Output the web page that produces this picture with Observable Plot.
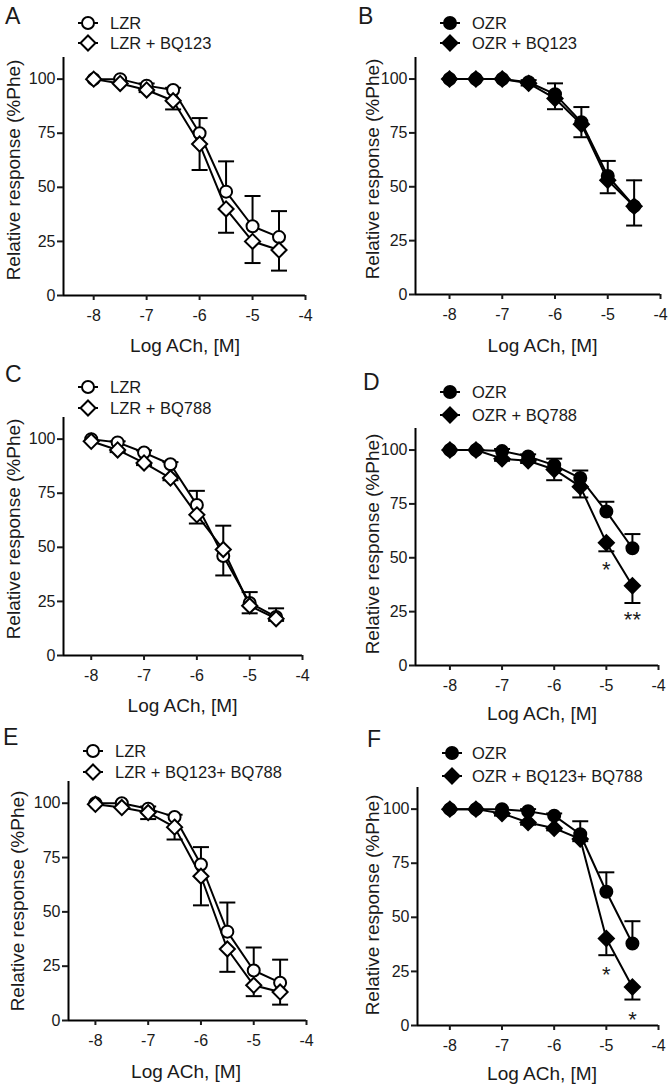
<!DOCTYPE html>
<html>
<head>
<meta charset="utf-8">
<script src="https://cdn.jsdelivr.net/npm/d3@7"></script>
<script src="https://cdn.jsdelivr.net/npm/@observablehq/plot@0.6"></script>
<style>
  html, body { margin: 0; padding: 0; background: #fff; }
  #root { position: relative; width: 670px; height: 1088px; overflow: hidden; font-family: "Liberation Sans", Arial, Helvetica, sans-serif; }
  .panel { position: absolute; width: 335px; height: 360px; }
  .panel svg { position: absolute; left: 0; top: 0; overflow: visible; }
  .overlay { pointer-events: none; }
</style>
</head>
<body>
<div id="root"></div>
<script>
// ---------------- DATA ----------------
const logACh = [-8, -7.5, -7, -6.5, -6, -5.5, -5, -4.5];
const xTicks = [-8, -7, -6, -5, -4];
const yTicks = [0, 25, 50, 75, 100];
const xLabel = "Log ACh, [M]";
const yLabel = "Relative response (%Phe)";
const panelLetters = ["A", "B", "C", "D", "E", "F"];

// Panel A
const legendA = ["LZR", "LZR + BQ123"];
const lzrA = [100, 100, 97, 95, 75, 48, 32, 27];
const lzrA_sem = [0, 0, 1, 1, 7, 14, 14, 12];
const lzrBQ123A = [100, 98, 95, 90, 70, 40, 25, 21];
const lzrBQ123A_sem = [0, 0, 1, 4, 12, 11, 10, 9.5];

// Panel B
const legendB = ["OZR", "OZR + BQ123"];
const ozrB = [100, 100, 100, 98.5, 93, 80, 55, 41];
const ozrB_sem = [0, 0, 0, 1, 5, 7, 7, 12];
const ozrBQ123B = [100, 100, 100, 98, 91, 79, 53, 41];
const ozrBQ123B_sem = [0, 0, 0, 1, 5, 6, 6, 9];

// Panel C
const legendC = ["LZR", "LZR + BQ788"];
const lzrC = [100, 98.5, 93.8, 88.4, 69.6, 46, 24.3, 17.8];
const lzrC_sem = [0, 0.5, 1, 1, 6.5, 14, 5, 4];
const lzrBQ788C = [99, 95, 89, 82, 65, 49, 23, 17];
const lzrBQ788C_sem = [0, 1, 1, 1, 4, 12, 3.5, 1];

// Panel D
const legendD = ["OZR", "OZR + BQ788"];
const ozrD = [100, 100, 99.5, 97, 93, 87, 71.5, 54.4];
const ozrD_sem = [0, 0, 1, 1, 3, 3.5, 4.5, 6.6];
const ozrBQ788D = [100, 100, 96, 95, 91, 83, 57, 37];
const ozrBQ788D_sem = [0, 0, 1, 1, 5, 5, 4, 8];
const starXD = [-5, -4.5];
const starYD = [47, 24];
const starTextD = ["*", "**"];

// Panel E
const legendE = ["LZR", "LZR + BQ123+ BQ788"];
const lzrE = [100, 100, 97.5, 93.7, 71.8, 40.9, 23, 17.4];
const lzrE_sem = [0, 0, 1, 1, 8, 13.4, 10.6, 10.6];
const lzrBothE = [99.5, 98, 95.7, 89, 66.4, 32.9, 16.2, 13.1];
const lzrBothE_sem = [0, 0, 3, 5.7, 13.4, 10.5, 5, 5.8];

// Panel F
const legendF = ["OZR", "OZR + BQ123+ BQ788"];
const ozrF = [100, 100, 100, 99, 97, 88.4, 61.8, 37.9];
const ozrF_sem = [0, 0, 0, 1, 1, 6, 9, 10.3];
const ozrBothF = [100, 100, 98, 93.8, 91.2, 86.2, 40.2, 17.8];
const ozrBothF_sem = [0, 0, 1, 1, 1, 1, 7.7, 5.8];
const starXF = [-5, -4.5];
const starYF = [26, 5.4];
const starTextF = ["*", "*"];

// ---------------- LAYOUT ----------------
const layout = {
  A: {left: 0,   top: 0,   mL: 63, mR: 30, mT: 57, mB: 65, xMin: -8.57,  letter: [5, 24],  mx: 88,  tx: 110, rows: [23, 43], xl: [185, 352], yl: [13.5, 170]},
  B: {left: 335, top: 0,   mL: 80, mR: 10, mT: 57, mB: 66, xMin: -8.645, letter: [23, 24], mx: 115, tx: 137, rows: [23, 43], xl: [207.5, 352], yl: [37, 169]},
  C: {left: 0,   top: 360, mL: 63, mR: 33, mT: 57, mB: 65, xMin: -8.525, letter: [5, 22],  mx: 88,  tx: 110, rows: [27, 48], xl: [182.5, 352], yl: [13, 169]},
  D: {left: 335, top: 360, mL: 80, mR: 12, mT: 68, mB: 55, xMin: -8.66,  letter: [28, 30], mx: 115, tx: 137, rows: [32, 55], xl: [207, 360], yl: [37, 184]},
  E: {left: 0,   top: 728, mL: 68, mR: 29, mT: 53, mB: 68, xMin: -8.51,  letter: [3, 17],  mx: 93,  tx: 115, rows: [23, 44], xl: [186, 350], yl: [17, 173]},
  F: {left: 335, top: 728, mL: 82, mR: 12, mT: 59, mB: 63, xMin: -8.62,  letter: [32, 19], mx: 117, tx: 137, rows: [25, 48], xl: [207, 352], yl: [37, 177]}
};

const series = {
  A: {legend: legendA, ctrl: lzrA, ctrlSem: lzrA_sem, trt: lzrBQ123A, trtSem: lzrBQ123A_sem, filled: false},
  B: {legend: legendB, ctrl: ozrB, ctrlSem: ozrB_sem, trt: ozrBQ123B, trtSem: ozrBQ123B_sem, filled: true},
  C: {legend: legendC, ctrl: lzrC, ctrlSem: lzrC_sem, trt: lzrBQ788C, trtSem: lzrBQ788C_sem, filled: false},
  D: {legend: legendD, ctrl: ozrD, ctrlSem: ozrD_sem, trt: ozrBQ788D, trtSem: ozrBQ788D_sem, filled: true, stars: [starXD, starYD, starTextD]},
  E: {legend: legendE, ctrl: lzrE, ctrlSem: lzrE_sem, trt: lzrBothE, trtSem: lzrBothE_sem, filled: false},
  F: {legend: legendF, ctrl: ozrF, ctrlSem: ozrF_sem, trt: ozrBothF, trtSem: ozrBothF_sem, filled: true, stars: [starXF, starYF, starTextF]}
};

const FONT = '"Liberation Sans", Arial, Helvetica, sans-serif';
const TEXT = "#1a1a1a";
const capSymbol = { draw(ctx) { ctx.moveTo(-8, 0); ctx.lineTo(8, 0); } };
const NS = "http://www.w3.org/2000/svg";

function el(name, attrs, parent) {
  const e = document.createElementNS(NS, name);
  for (const k in attrs) e.setAttribute(k, attrs[k]);
  if (parent) parent.appendChild(e);
  return e;
}

const root = document.getElementById("root");

for (const id of panelLetters) {
  const L = layout[id], S = series[id];
  const fill = S.filled ? "black" : "white";
  const rows = logACh.map((x, i) => ({x, c: S.ctrl[i], cs: S.ctrlSem[i], t: S.trt[i], ts: S.trtSem[i]}));
  const cErr = rows.filter(d => d.cs > 0);
  const tErr = rows.filter(d => d.ts > 0);

  const marks = [
    Plot.ruleX(cErr, {x: "x", y1: "c", y2: d => d.c + d.cs, stroke: "black", strokeWidth: 2}),
    Plot.dot(cErr, {x: "x", y: d => d.c + d.cs, symbol: capSymbol, r: 1, stroke: "black", strokeWidth: 2, fill: "none"}),
    Plot.ruleX(tErr, {x: "x", y1: "t", y2: d => d.t - d.ts, stroke: "black", strokeWidth: 2}),
    Plot.dot(tErr, {x: "x", y: d => d.t - d.ts, symbol: capSymbol, r: 1, stroke: "black", strokeWidth: 2, fill: "none"}),
    Plot.line(rows, {x: "x", y: "c", stroke: "black", strokeWidth: 2}),
    Plot.line(rows, {x: "x", y: "t", stroke: "black", strokeWidth: 2}),
    Plot.dot(rows, {x: "x", y: "c", symbol: "circle", r: 6, fill, stroke: "black", strokeWidth: 2}),
    Plot.dot(rows, {x: "x", y: "t", symbol: "diamond2", r: 6.8, fill, stroke: "black", strokeWidth: 2}),
    Plot.ruleX([L.xMin], {stroke: "black", strokeWidth: 2}),
    Plot.ruleY([0], {stroke: "black", strokeWidth: 2}),
    Plot.axisX({ticks: xTicks, tickFormat: d => String(d), tickSize: 5, tickPadding: 9, strokeWidth: 2, label: null, fill: TEXT}),
    Plot.axisY({ticks: yTicks, tickFormat: d => String(d), tickSize: 6, tickPadding: 2, strokeWidth: 2, label: null, fill: TEXT})
  ];
  if (S.stars) {
    const [sx, sy, st] = S.stars;
    const starRows = sx.map((x, i) => ({x, y: sy[i], text: st[i]}));
    marks.push(Plot.text(starRows, {x: "x", y: "y", text: "text", fontSize: 22, dy: 6, fill: TEXT}));
  }

  const chart = Plot.plot({
    width: 335,
    height: 360,
    marginLeft: L.mL, marginRight: L.mR, marginTop: L.mT, marginBottom: L.mB,
    x: {domain: [L.xMin, -4]},
    y: {domain: [0, 110]},
    style: {fontFamily: FONT, fontSize: "16px", color: TEXT, background: "transparent", overflow: "visible"},
    marks
  });

  const div = document.createElement("div");
  div.className = "panel";
  div.style.left = L.left + "px";
  div.style.top = L.top + "px";
  div.appendChild(chart);

  // overlay: panel letter, legend, axis titles
  const ov = el("svg", {width: 335, height: 360, class: "overlay", "font-family": FONT, fill: TEXT});
  const letter = el("text", {x: L.letter[0], y: L.letter[1], "font-size": 23}, ov);
  letter.textContent = id;

  S.legend.forEach((name, i) => {
    const y = L.rows[i];
    el("line", {x1: L.mx - 10, x2: L.mx + 10, y1: y, y2: y, stroke: "black", "stroke-width": 2}, ov);
    if (i === 0) {
      el("circle", {cx: L.mx, cy: y, r: 6, fill, stroke: "black", "stroke-width": 2}, ov);
    } else {
      const h = 7.5;
      el("path", {d: `M${L.mx},${y - h}L${L.mx + h},${y}L${L.mx},${y + h}L${L.mx - h},${y}Z`, fill, stroke: "black", "stroke-width": 2}, ov);
    }
    const t = el("text", {x: L.tx, y: y, "font-size": 16.5, "dominant-baseline": "central"}, ov);
    t.textContent = name;
  });

  const xl = el("text", {x: L.xl[0], y: L.xl[1], "font-size": 19, "text-anchor": "middle"}, ov);
  xl.textContent = xLabel;
  const yl = el("text", {transform: `translate(${L.yl[0]},${L.yl[1]}) rotate(-90)`, "font-size": 19, "text-anchor": "middle", "dominant-baseline": "central"}, ov);
  yl.textContent = yLabel;

  div.appendChild(ov);
  root.appendChild(div);
}
</script>
</body>
</html>
